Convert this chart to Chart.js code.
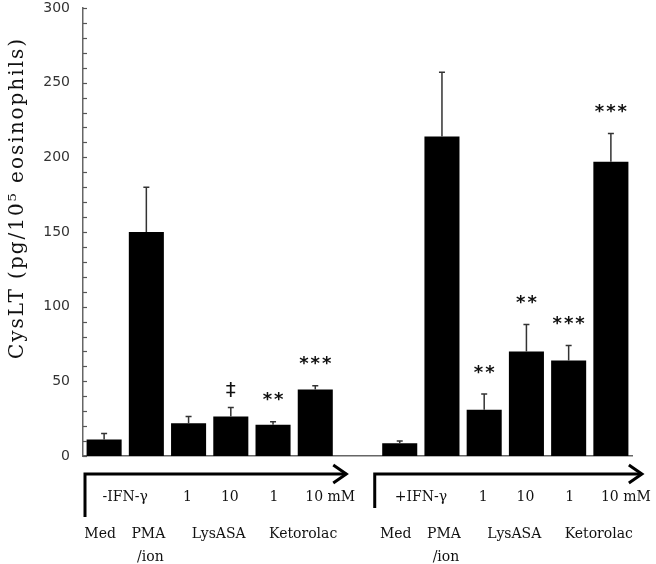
<!DOCTYPE html>
<html>
<head>
<meta charset="utf-8">
<script src="https://cdn.jsdelivr.net/npm/chart.js@4.4.1/dist/chart.umd.min.js"></script>
<style>
  html, body { margin: 0; padding: 0; background: #fff; }
  #wrap { width: 656px; height: 564px; }
</style>
</head>
<body>
<div id="wrap"><canvas id="cyslt-chart" width="656" height="564"></canvas></div>
<script>
// data (mean and upper SEM, pg/10^5 eosinophils)
const conditions = ['Med', 'PMA/ion', 'LysASA 1', 'LysASA 10', 'Ketorolac 1', 'Ketorolac 10 mM'];
const groupLabels = ['-IFN-\u03b3', '+IFN-\u03b3'];
const meanMinus = [11, 150, 22, 26.5, 21, 44.5];
const semMinus = [4, 30, 4.5, 6, 2, 2.5];
const meanPlus = [8.5, 214, 31, 70, 64, 197];
const semPlus = [1.5, 43, 10.5, 18, 10, 19];
const sigMinus = ['', '', '', '\u2021', '**', '***'];
const sigPlus = ['', '', '**', '**', '***', '***'];
const doseLabels = ['1', '10', '1', '10 mM'];
const drugLabels = ['Med', 'PMA', 'LysASA', 'Ketorolac'];
const yTitle = 'CysLT (pg/10\u2075 eosinophils)';

// one empty slot between the two groups
const labels = [...conditions, '', ...conditions];
const means = [...meanMinus, null, ...meanPlus];
const sems = [...semMinus, null, ...semPlus];
const sigs = [...sigMinus, '', ...sigPlus];

const serif = '"DejaVu Serif", "Liberation Serif", serif';

function arrow(ctx, x0, y0, x1, yBottom) {
  ctx.beginPath();
  ctx.moveTo(x0, yBottom);
  ctx.lineTo(x0, y0);
  ctx.lineTo(x1, y0);
  ctx.stroke();
  ctx.beginPath();
  ctx.moveTo(x1 - 13, y0 - 9);
  ctx.lineTo(x1, y0);
  ctx.lineTo(x1 - 13, y0 + 9);
  ctx.stroke();
}

const extras = {
  id: 'extras',
  afterDatasetsDraw(chart) {
    const { ctx, scales: { x, y } } = chart;
    ctx.save();
    // error bars (upper only)
    ctx.strokeStyle = '#333';
    ctx.lineWidth = 1.5;
    means.forEach((m, i) => {
      if (m == null) return;
      const xp = x.getPixelForValue(i);
      const top = y.getPixelForValue(m + sems[i]);
      ctx.beginPath();
      ctx.moveTo(xp, y.getPixelForValue(m));
      ctx.lineTo(xp, top);
      ctx.moveTo(xp - 3, top);
      ctx.lineTo(xp + 3, top);
      ctx.stroke();
    });
    // significance marks
    ctx.fillStyle = '#111';
    ctx.textAlign = 'center';
    ctx.textBaseline = 'alphabetic';
    sigs.forEach((s, i) => {
      if (!s) return;
      const xp = x.getPixelForValue(i);
      const top = y.getPixelForValue(means[i] + sems[i]);
      const dagger = s === '\u2021';
      ctx.font = dagger ? '20px "DejaVu Sans"' : 'bold 18px "DejaVu Sans"';
      ctx.letterSpacing = dagger ? '0px' : '2px';
      const mt = ctx.measureText(s);
      const centre = top - (dagger ? 18 : 25);
      ctx.fillText(s, xp + (dagger ? 0 : 1), centre + (mt.actualBoundingBoxAscent - mt.actualBoundingBoxDescent) / 2);
    });
    ctx.restore();
  },
  afterDraw(chart) {
    const { ctx, chartArea, scales: { x, y } } = chart;
    ctx.save();
    // inward y ticks
    ctx.strokeStyle = '#555';
    ctx.lineWidth = 1.2;
    y.ticks.forEach(t => {
      const yp = Math.round(y.getPixelForValue(t.value)) + 0.5;
      ctx.beginPath();
      ctx.moveTo(chartArea.left, yp);
      ctx.lineTo(chartArea.left + 4, yp);
      ctx.stroke();
    });

    // y title
    ctx.save();
    ctx.translate(18, 198);
    ctx.rotate(-Math.PI / 2);
    ctx.font = '20px ' + serif;
    ctx.letterSpacing = '2px';
    ctx.fillStyle = '#111';
    ctx.textAlign = 'center';
    ctx.textBaseline = 'middle';
    ctx.fillText(yTitle, 0, 0);
    ctx.restore();

    // group arrows and labels
    ctx.strokeStyle = '#000';
    ctx.lineWidth = 3;
    ctx.fillStyle = '#111';
    ctx.font = '14px ' + serif;
    ctx.textBaseline = 'middle';
    [0, 7].forEach((base, g) => {
      const px = k => x.getPixelForValue(base + k);
      const startX = g === 0 ? chartArea.left + 2 : px(0) - 25;
      arrow(ctx, startX, 474, px(5) + 31, g === 0 ? 517 : 508);

      ctx.textAlign = 'center';
      ctx.fillText(groupLabels[g], (px(0) + px(1)) / 2, 497);
      ctx.fillText(doseLabels[0], px(2) - 1, 497);
      ctx.fillText(doseLabels[1], px(3) - 1, 497);
      ctx.fillText(doseLabels[2], px(4) + 1, 497);
      ctx.textAlign = 'left';
      ctx.fillText(doseLabels[3], px(5) - 10, 497);

      ctx.textAlign = 'center';
      ctx.fillText(drugLabels[0], px(0) - 4, 534);
      ctx.fillText(drugLabels[1], px(1) + 2, 534);
      ctx.fillText('/ion', px(1) + 4, 557);
      ctx.fillText(drugLabels[2], (px(2) + px(3)) / 2 + 9, 534);
      ctx.fillText(drugLabels[3], (px(4) + px(5)) / 2 + 9, 534);
    });
    ctx.restore();
  }
};

new Chart(document.getElementById('cyslt-chart').getContext('2d'), {
  type: 'bar',
  data: {
    labels: labels,
    datasets: [{
      data: means,
      backgroundColor: '#000',
      borderWidth: 0,
      barPercentage: 0.83,
      categoryPercentage: 1
    }]
  },
  options: {
    responsive: false,
    devicePixelRatio: 1,
    animation: false,
    layout: { padding: { top: 8, right: 24, left: 0, bottom: 0 } },
    plugins: {
      legend: { display: false },
      tooltip: { enabled: false }
    },
    scales: {
      x: {
        grid: { display: false },
        border: { display: true, color: '#666', width: 1.5 },
        ticks: { display: false },
        afterFit: s => { s.height = 108; s.paddingLeft = 0; s.paddingRight = 0; }
      },
      y: {
        min: 0,
        max: 300,
        grid: { display: false, drawTicks: false },
        border: { display: true, color: '#666', width: 1.5 },
        ticks: {
          stepSize: 10,
          autoSkip: false,
          padding: 13,
          color: '#333',
          font: { family: '"DejaVu Sans", sans-serif', size: 14 },
          callback: v => (v % 50 === 0 ? v : '')
        },
        afterFit: s => { s.width = 83; s.paddingTop = 0; s.paddingBottom = 0; }
      }
    }
  },
  plugins: [extras]
});
</script>
</body>
</html>
